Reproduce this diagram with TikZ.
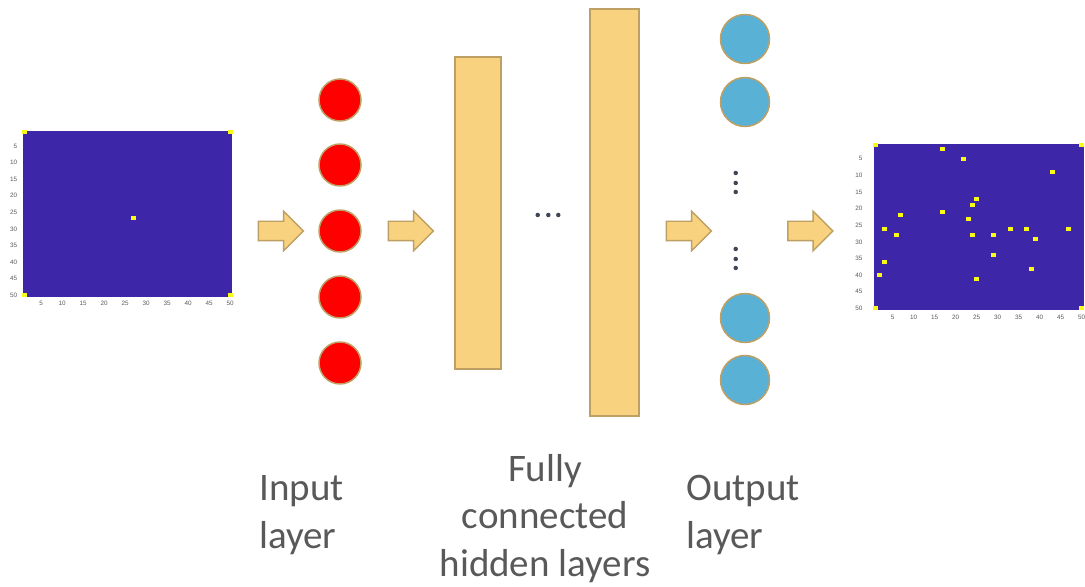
\documentclass[tikz,border=0pt]{standalone}
\usepackage{fontspec}
\newfontfamily\labelfont{Carlito}
\newfontfamily\tickfont{Liberation Sans}
\usepackage{tikz}
\usetikzlibrary{shapes.arrows, positioning}
\definecolor{MapBlue}{HTML}{3E26A8}
\definecolor{MapYellow}{HTML}{F9FB15}
\definecolor{Sand}{HTML}{F8D27E}
\definecolor{SandEdge}{HTML}{BFA064}
\definecolor{InRed}{HTML}{FF0000}
\definecolor{OutBlue}{HTML}{5AB1D6}
\definecolor{DotGrey}{HTML}{3F4656}
\definecolor{LabelGrey}{HTML}{595959}
\definecolor{TickGrey}{HTML}{5A5A5A}

\begin{document}
\begin{tikzpicture}[x=0.02cm, y=-0.02cm,
  hmap/.style={rectangle, fill=MapBlue, draw=none, inner sep=0pt,
               minimum width=4.2cm, minimum height=3.32cm},
  tick/.style={font=\fontsize{3.6}{4}\tickfont, text=TickGrey, inner sep=0pt},
  blk/.style={single arrow, fill=Sand, draw=SandEdge, line width=0.85pt,
              minimum height=0.9cm, inner xsep=0pt, inner ysep=0.18cm,
              single arrow head extend=0.2cm},
  inode/.style={circle, fill=InRed, draw=SandEdge, line width=0.85pt,
                minimum size=0.84cm, inner sep=0pt},
  onode/.style={circle, fill=OutBlue, draw=SandEdge, line width=0.85pt,
                minimum size=0.98cm, inner sep=0pt},
  hid/.style={rectangle, fill=Sand, draw=SandEdge, line width=0.85pt, inner sep=0pt},
  lbl/.style={font=\fontsize{22.2}{27}\labelfont, text=LabelGrey, inner sep=0pt}
]
\useasboundingbox (0,0) rectangle (1085,587);

%% ---- input map (50x50) ----
\node[hmap] (inmap) at (127.5,213.7) {};
\begin{scope}[shift={(inmap.north west)}, x=0.084cm, y=-0.0664cm]
  \foreach \c/\r in {1/1,50/1,1/50,50/50,27/27}
    \fill[MapYellow] (\c-1.1,\r-1.1) rectangle (\c+0.1,\r+0.1);
  \foreach \t in {5,10,...,50} {
    \node[tick, anchor=east] (iny\t) at (-1.1,\t-0.3) {\t};
    \node[tick] (inx\t) at (\t-0.5,52) {\t};
  }
\end{scope}

%% ---- output map (50x50) ----
\node[hmap] (outmap) at (979,227) {};
\begin{scope}[shift={(outmap.north west)}, x=0.084cm, y=-0.0666cm]
  \foreach \c/\r in {1/1,50/1,1/50,50/50,
                     17/2,22/5,43/9,25/17,24/19,17/21,7/22,23/23,
                     3/26,33/26,37/26,47/26,6/28,24/28,29/28,39/29,
                     29/34,3/36,38/38,2/40,25/41}
    \fill[MapYellow] (\c-1.1,\r-1.1) rectangle (\c+0.1,\r+0.1);
  \foreach \t in {5,10,...,50} {
    \node[tick, anchor=east] (outy\t) at (-2.6,\t-0.5) {\t};
    \node[tick] (outx\t) at (\t-0.5,52.2) {\t};
  }
\end{scope}

%% ---- block arrows ----
\node[blk] (arrA) at (276,231) {};
\node[blk] (arrB) at (406,231) {};
\node[blk] (arrC) at (684,231) {};
\node[blk] (arrD) at (805.5,231) {};

%% ---- input layer ----
\foreach \y [count=\i] in {100,165,231,297,363}
  \node[inode] (in\i) at (340,\y) {};

%% ---- hidden layers ----
\node[hid, minimum width=0.92cm, minimum height=6.24cm] (hidA) at (478,213) {};
\node[hid, minimum width=0.98cm, minimum height=8.14cm] (hidB) at (614.5,212.5) {};
\foreach \x in {537.7,548.3,558.3}
  \fill[DotGrey] (\x,215) circle (0.045cm);

%% ---- output layer ----
\foreach \y [count=\i] in {39,102,318,380}
  \node[onode] (out\i) at (745,\y) {};
\foreach \y in {173,183,192,249,259,268}
  \fill[DotGrey] (735.7,\y) circle (0.045cm);

%% ---- captions (base = last line) ----
\node[lbl, align=left, anchor=base west] (inlbl) at (259,548) {Input\\layer};
\node[lbl, align=center, anchor=base] (hidlbl) at (545,576) {Fully\\connected\\hidden layers};
\node[lbl, align=left, anchor=base west] (outlbl) at (686,548) {Output\\layer};

\end{tikzpicture}
\end{document}
